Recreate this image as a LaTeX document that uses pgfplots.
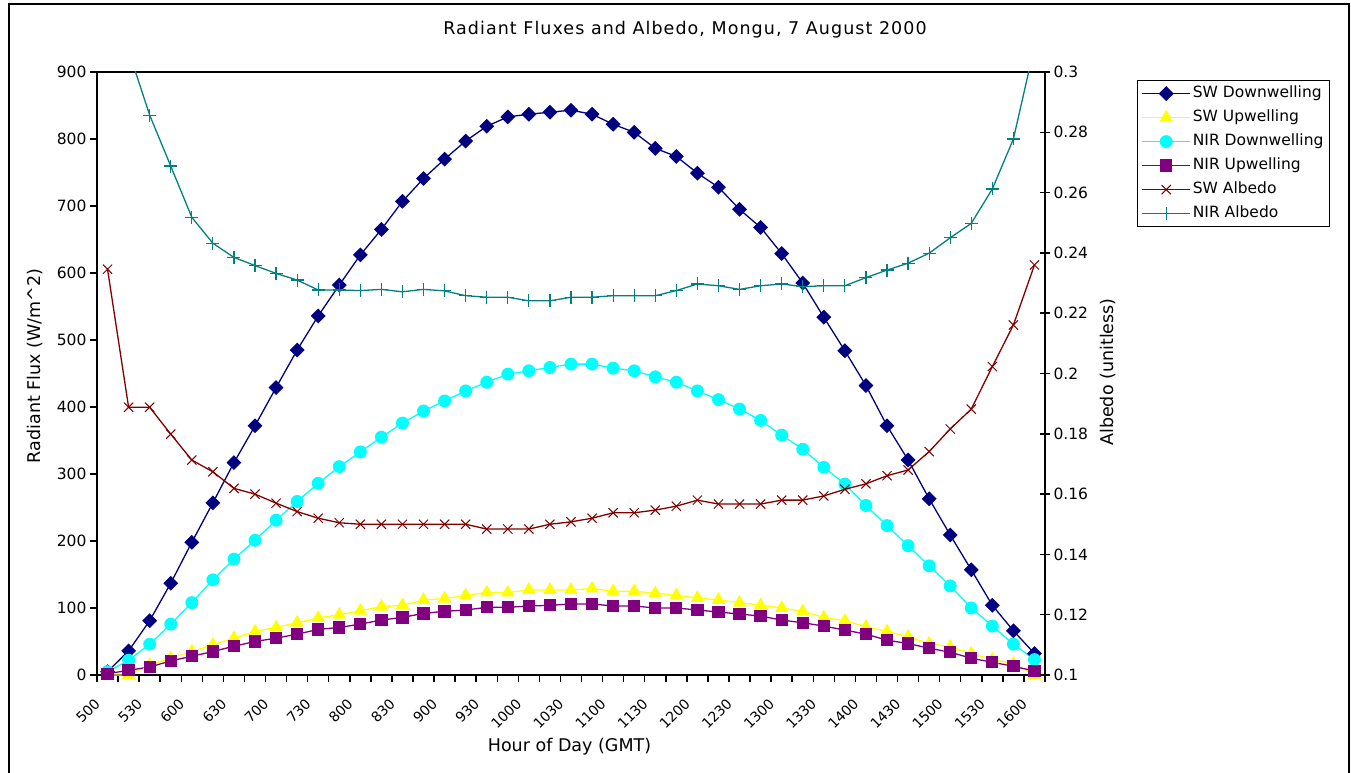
\documentclass[border=0pt]{standalone}
\usepackage{fontspec}
\setmainfont{DejaVu Sans}
\newfontfamily\titlefont{DejaVu Sans}[LetterSpace=6]
\usepackage{pgfplots}
\usepackage{pgfplotstable}
\pgfplotsset{compat=1.18}
\definecolor{cswd}{RGB}{0,0,128}
\definecolor{cswu}{RGB}{255,255,0}
\definecolor{cnird}{RGB}{0,255,255}
\definecolor{cniru}{RGB}{128,0,128}
\definecolor{cswa}{RGB}{128,0,0}
\definecolor{cnira}{RGB}{0,128,128}
\newcommand{\tickfont}{\fontsize{15.5}{18}\selectfont}
\newcommand{\xtickfont}{\fontsize{14}{16}\selectfont}
\newcommand{\labfont}{\fontsize{17.5}{20}\selectfont}

\pgfplotstableread{
i swd swu nird niru swa nira
0 5 0 5 2 0.2346 0.36
1 36 0 22 7 0.1888 0.307
2 81 15 46 12 0.1888 0.2857
3 137 25 76 21 0.1799 0.2688
4 198 35 108 28 0.1713 0.2518
5 257 45 142 35 0.1674 0.2432
6 317 55 173 43 0.1619 0.2385
7 372 65 201 50 0.1600 0.2358
8 429 71 231 55 0.1570 0.2332
9 485 78 259 61 0.1542 0.2310
10 536 85 286 68 0.1520 0.2277
11 582 90 311 71 0.1505 0.2277
12 627 96 333 76 0.1500 0.2275
13 665 102 355 82 0.1500 0.2279
14 707 104 376 86 0.1500 0.2271
15 741 112 394 92 0.1500 0.2279
16 770 114 409 95 0.1500 0.2274
17 797 119 424 97 0.1500 0.2258
18 819 123 437 101 0.1484 0.2253
19 833 123 449 101 0.1484 0.2253
20 837 127 454 103 0.1484 0.2241
21 840 127 459 104 0.1500 0.2241
22 843 127 464 106 0.1508 0.2253
23 837 129 464 106 0.1520 0.2253
24 822 125 458 103 0.1538 0.2258
25 810 125 454 103 0.1538 0.2258
26 786 122 445 100 0.1547 0.2258
27 774 119 437 100 0.1560 0.2275
28 749 115 424 97 0.1580 0.2297
29 728 112 411 94 0.1567 0.2291
30 695 108 397 91 0.1567 0.2279
31 668 104 380 88 0.1567 0.2291
32 629 100 358 82 0.1580 0.2297
33 585 95 337 78 0.1580 0.2288
34 534 86 310 73 0.1594 0.2291
35 484 81 285 67 0.1616 0.2291
36 432 72 253 61 0.1634 0.2318
37 372 65 223 52 0.1661 0.2343
38 321 57 193 47 0.1680 0.2366
39 263 47 163 40 0.1741 0.2399
40 209 42 133 34 0.1816 0.2450
41 157 32 100 25 0.1882 0.2498
42 104 23 73 19 0.2023 0.2612
43 66 17 46 13 0.2161 0.2778
44 32 0 23 6 0.2360 0.3085
}\data

\pgfplotsset{
  swdS/.style={color=cswd, line width=1.3pt, mark=square*, mark size=4.6pt, mark options={solid, rotate=45, fill=cswd}},
  swuS/.style={color=cswu, line width=1.3pt, mark=triangle*, mark size=6.5pt, mark options={solid, fill=cswu}},
  nirdS/.style={color=cnird, line width=1.3pt, mark=*, mark size=5.8pt, mark options={solid, fill=cnird}},
  niruS/.style={color=cniru, line width=1.3pt, mark=square*, mark size=5.5pt, mark options={solid, fill=cniru}},
  swaS/.style={color=cswa, line width=1.3pt, mark=x, mark size=6.5pt, mark options={solid, line width=1pt}},
  niraS/.style={color=cnira, line width=1.3pt, mark=+, mark size=6.5pt, mark options={solid, line width=1.2pt}},
}

\begin{document}
\begin{tikzpicture}[x=1pt,y=1pt]
\useasboundingbox (0,0) rectangle (1351,772);
\draw[line width=2pt] (9,-20) -- (9,768) -- (1349,768) -- (1349,-20);

\begin{axis}[
  at={(97pt,97pt)}, anchor=south west,
  scale only axis, width=948pt, height=603pt,
  xmin=-0.5, xmax=44.5, ymin=0, ymax=900,
  axis line style={line width=1.5pt},
  xtick pos=bottom, ytick pos=left,
  xtick={-0.5,0.5,...,44.5}, xticklabels={,,},
  extra x ticks={0,2,...,44},
  extra x tick labels={500,530,600,630,700,730,800,830,900,930,1000,1030,1100,1130,1200,1230,1300,1330,1400,1430,1500,1530,1600},
  extra x tick style={major tick length=0pt},
  xticklabel style={font=\xtickfont, xshift=-10pt, yshift=-26pt, rotate=45, anchor=east, inner sep=0pt},
  ytick={0,100,...,900},
  yticklabel style={font=\tickfont, /pgf/number format/assume math mode=true},
  tick align=outside, major tick length=7pt,
  tick style={line width=1.5pt, black},
]
\addplot[swdS] table[x=i,y=swd]{\data};
\addplot[swuS] table[x=i,y=swu]{\data};
\addplot[nirdS] table[x=i,y=nird]{\data};
\addplot[niruS] table[x=i,y=niru]{\data};
\end{axis}

\begin{axis}[
  at={(97pt,97pt)}, anchor=south west,
  scale only axis, width=948pt, height=603pt,
  xmin=-0.5, xmax=44.5, ymin=0.1, ymax=0.3,
  axis x line=none, axis y line*=right,
  axis line style={line width=1.5pt},
  ytick={0.1,0.12,0.14,0.16,0.18,0.2,0.22,0.24,0.26,0.28,0.3},
  yticklabels={0.1,0.12,0.14,0.16,0.18,0.2,0.22,0.24,0.26,0.28,0.3},
  yticklabel style={font=\tickfont},
  tick align=center, major tick length=10pt,
  tick style={line width=1.5pt, black},
  legend style={at={(axis description cs:1.097,0.9867)}, anchor=north west,
    draw=black, line width=1.2pt, fill=white, inner xsep=4pt, inner ysep=1pt,
    font=\tickfont, row sep=0pt,
    nodes={inner xsep=2pt, inner ysep=3pt, text height=13pt, text depth=5pt},
    /tikz/every even column/.append style={column sep=0pt}},
  legend cell align=left,
  legend image code/.code={\draw[mark repeat=2,mark phase=2,#1] plot coordinates {(0pt,0pt) (24pt,0pt) (48pt,0pt)};},
]
\addlegendimage{swdS}
\addlegendentry{SW Downwelling}
\addlegendimage{swuS}
\addlegendentry{SW Upwelling}
\addlegendimage{nirdS}
\addlegendentry{NIR Downwelling\hspace{12pt}}
\addlegendimage{niruS}
\addlegendentry{NIR Upwelling}
\addplot[swaS] table[x=i,y=swa]{\data};
\addlegendentry{SW Albedo}
\addplot[niraS] table[x=i,y=nira]{\data};
\addlegendentry{NIR Albedo}
\end{axis}

\node[font=\titlefont\labfont] at (685,742) {Radiant Fluxes and Albedo, Mongu, 7 August 2000};
\node[font=\labfont] at (569.5,25) {Hour of Day (GMT)};
\node[font=\labfont, rotate=90] at (35,406) {Radiant Flux (W/m\textasciicircum 2)};
\node[font=\labfont, rotate=90] at (1108,400) {Albedo (unitless)};
\end{tikzpicture}
\end{document}
